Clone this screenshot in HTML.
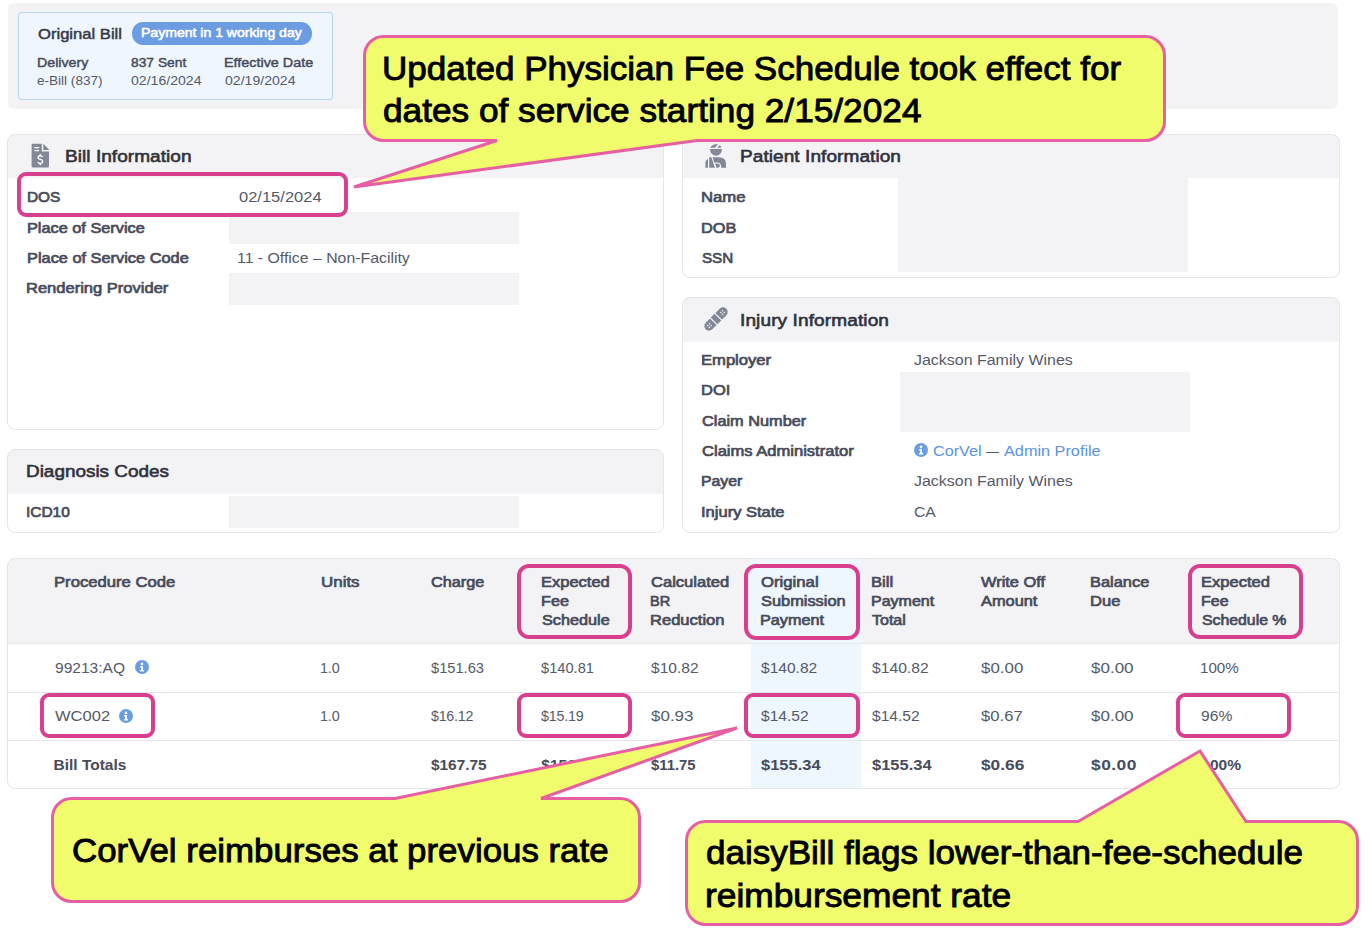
<!DOCTYPE html>
<html><head><meta charset="utf-8"><title>daisyBill</title>
<style>
html,body{margin:0;padding:0;background:#fff;}
body{width:1368px;height:942px;position:relative;overflow:hidden;font-family:"Liberation Sans", sans-serif;}
.a{position:absolute;}
.t{white-space:nowrap;}
</style></head><body>
<div class="a" style="left:8px;top:3px;width:1330px;height:106px;background:#f3f3f5;border-radius:6px;"></div>
<div class="a" style="left:17.5px;top:12px;width:315px;height:87.5px;background:#eff6fe;border:1px solid #b9d4f6;box-sizing:border-box;border-radius:3px;"></div>
<div class="a t" style="left:37.67px;top:24.00px;font-size:15.5px;line-height:19.38px;font-weight:400;color:#363945;-webkit-text-stroke:0.5px #363945;transform:scaleX(1.0709);transform-origin:0 0;">Original Bill</div>
<div class="a" style="left:132px;top:22px;width:180px;height:22.5px;background:#6c9ce2;border-radius:11.25px;"></div>
<div class="a t" style="left:141.02px;top:25.00px;font-size:13px;line-height:16.25px;font-weight:400;color:#ffffff;-webkit-text-stroke:0.55px #ffffff;transform:scaleX(1.0799);transform-origin:0 0;">Payment in 1 working day</div>
<div class="a t" style="left:36.58px;top:55.00px;font-size:13.5px;line-height:16.88px;font-weight:400;color:#474b5b;-webkit-text-stroke:0.45px #474b5b;transform:scaleX(1.0524);transform-origin:0 0;">Delivery</div>
<div class="a t" style="left:37.40px;top:73.00px;font-size:13.5px;line-height:16.88px;font-weight:400;color:#555a69;transform:scaleX(1.0035);transform-origin:0 0;">e-Bill (837)</div>
<div class="a t" style="left:131.23px;top:55.00px;font-size:13.5px;line-height:16.88px;font-weight:400;color:#474b5b;letter-spacing:0.000px;-webkit-text-stroke:0.45px #474b5b;transform:scaleX(1.0229);transform-origin:0 0;">837 Sent</div>
<div class="a t" style="left:131.00px;top:73.00px;font-size:13.5px;line-height:16.88px;font-weight:400;color:#555a69;transform:scaleX(1.0432);transform-origin:0 0;">02/16/2024</div>
<div class="a t" style="left:223.78px;top:55.00px;font-size:13.5px;line-height:16.88px;font-weight:400;color:#474b5b;-webkit-text-stroke:0.45px #474b5b;transform:scaleX(1.0636);transform-origin:0 0;">Effective Date</div>
<div class="a t" style="left:224.60px;top:73.00px;font-size:13.5px;line-height:16.88px;font-weight:400;color:#555a69;transform:scaleX(1.0432);transform-origin:0 0;">02/19/2024</div>
<div class="a" style="left:7px;top:134px;width:657px;height:296px;border:1px solid #e5e5ea;box-sizing:border-box;border-radius:8px;background:linear-gradient(to bottom,#f3f3f5 43px,#fff 43px);"></div>
<div class="a" style="left:682px;top:134px;width:658px;height:144px;border:1px solid #e5e5ea;box-sizing:border-box;border-radius:8px;background:linear-gradient(to bottom,#f3f3f5 43px,#fff 43px);"></div>
<div class="a" style="left:682px;top:297px;width:658px;height:236px;border:1px solid #e5e5ea;box-sizing:border-box;border-radius:8px;background:linear-gradient(to bottom,#f3f3f5 44px,#fff 44px);"></div>
<div class="a" style="left:7px;top:449px;width:657px;height:84px;border:1px solid #e5e5ea;box-sizing:border-box;border-radius:8px;background:linear-gradient(to bottom,#f3f3f5 44px,#fff 44px);"></div>
<div class="a" style="left:229px;top:211.5px;width:290px;height:32px;background:#f3f3f5;"></div>
<div class="a" style="left:229px;top:272.5px;width:290px;height:32px;background:#f3f3f5;"></div>
<div class="a" style="left:898px;top:177px;width:290px;height:95px;background:#f3f3f5;"></div>
<div class="a" style="left:900px;top:372px;width:290px;height:60px;background:#f3f3f5;"></div>
<div class="a" style="left:229px;top:496px;width:290px;height:32px;background:#f3f3f5;"></div>
<svg class="a" style="left:31px;top:143px" width="19" height="26" viewBox="0 0 19 26">
<path d="M0.6 1.9 Q0.6 0.7 1.8 0.7 H10.8 V8.4 H18 V23.3 Q18 24.5 16.8 24.5 H1.8 Q0.6 24.5 0.6 23.3 Z" fill="#838897"/>
<path d="M12.3 0.7 L18 6.4 V6.9 H12.3 Z" fill="#838897"/>
<rect x="3.3" y="4" width="4.8" height="1.25" fill="#fff"/><rect x="3.3" y="6.95" width="4.8" height="1.25" fill="#fff"/>
<path d="M11.5 13.9 Q11 12.7 9.3 12.7 Q7.1 12.7 7.1 14.5 Q7.1 16 9.3 16.4 Q11.6 16.8 11.6 18.6 Q11.6 20.4 9.3 20.4 Q7.5 20.4 6.9 19.1 M9.3 11 V12.7 M9.3 20.4 V22.2" fill="none" stroke="#fff" stroke-width="1.35"/>
</svg>
<svg class="a" style="left:704px;top:143px" width="24" height="26" viewBox="0 0 24 26">
<path d="M6 6.1 H18 A6 6.7 0 0 1 6 6.1 Z" fill="#838897"/>
<path d="M6.2 4.8 Q7.8 1.3 14 1.1 L11 4.8 Z" fill="#838897"/><path d="M13.2 4.8 L15.7 2.2 Q17.1 3 17.3 4.8 Z" fill="#838897"/>
<path d="M1.4 24.7 V19.6 Q1.4 16.9 4 15.9 V24.7 Z" fill="#838897"/>
<path d="M5.2 24.7 V14.3 H7.4 L10.9 24.7 Z" fill="#838897"/>
<path d="M8.6 14.3 H15 Q22 14.3 22 21 V24.7 H17.2 Q17.4 20.1 13.8 19.5 H10.1 Z" fill="#838897"/>
<path d="M11.2 20.6 H14 Q15.9 21 15.9 22.6 Q15.9 24.7 13.8 24.7 H12.4 Z" fill="#838897"/>
</svg>
<svg class="a" style="left:701.8px;top:304.6px" width="28" height="28" viewBox="-14 -14 28 28">
<g transform="rotate(-45)">
<path d="M-3.9 -4.7 H-9.9 A4.7 4.7 0 0 0 -9.9 4.7 H-3.9 Z" fill="#838897"/>
<rect x="-2.7" y="-4.7" width="5.4" height="9.4" fill="#838897"/>
<path d="M3.9 -4.7 H9.9 A4.7 4.7 0 0 1 9.9 4.7 H3.9 Z" fill="#838897"/>
<circle cx="-7.999999999999999" cy="1.2" r="0.75" fill="#f3f3f5"/><circle cx="-10.399999999999999" cy="-1.2" r="0.75" fill="#f3f3f5"/><circle cx="-10.399999999999999" cy="1.2" r="0.75" fill="#f3f3f5"/><circle cx="-7.999999999999999" cy="-1.2" r="0.75" fill="#f3f3f5"/><circle cx="10.399999999999999" cy="1.2" r="0.75" fill="#f3f3f5"/><circle cx="7.999999999999999" cy="-1.2" r="0.75" fill="#f3f3f5"/><circle cx="7.999999999999999" cy="1.2" r="0.75" fill="#f3f3f5"/><circle cx="10.399999999999999" cy="-1.2" r="0.75" fill="#f3f3f5"/>
</g></svg>
<div class="a t" style="left:64.62px;top:146.00px;font-size:17px;line-height:21.25px;font-weight:400;color:#2f323c;letter-spacing:0.038px;-webkit-text-stroke:0.6px #2f323c;transform:scaleX(1.1200);transform-origin:0 0;">Bill Information</div>
<div class="a t" style="left:739.72px;top:146.00px;font-size:17px;line-height:21.25px;font-weight:400;color:#2f323c;letter-spacing:0.057px;-webkit-text-stroke:0.6px #2f323c;transform:scaleX(1.1200);transform-origin:0 0;">Patient Information</div>
<div class="a t" style="left:739.72px;top:310.00px;font-size:17px;line-height:21.25px;font-weight:400;color:#2f323c;letter-spacing:0.098px;-webkit-text-stroke:0.6px #2f323c;transform:scaleX(1.1200);transform-origin:0 0;">Injury Information</div>
<div class="a t" style="left:26.22px;top:461.00px;font-size:17px;line-height:21.25px;font-weight:400;color:#2f323c;-webkit-text-stroke:0.6px #2f323c;transform:scaleX(1.1127);transform-origin:0 0;">Diagnosis Codes</div>
<div class="a t" style="left:26.54px;top:188.00px;font-size:15.1px;line-height:18.88px;font-weight:400;color:#474b5b;-webkit-text-stroke:0.7px #474b5b;transform:scaleX(1.0204);transform-origin:0 0;">DOS</div>
<div class="a t" style="left:26.50px;top:219.00px;font-size:15.1px;line-height:18.88px;font-weight:400;color:#474b5b;letter-spacing:0.000px;-webkit-text-stroke:0.7px #474b5b;transform:scaleX(1.0797);transform-origin:0 0;">Place of Service</div>
<div class="a t" style="left:26.50px;top:249.00px;font-size:15.1px;line-height:18.88px;font-weight:400;color:#474b5b;-webkit-text-stroke:0.7px #474b5b;transform:scaleX(1.0831);transform-origin:0 0;">Place of Service Code</div>
<div class="a t" style="left:26.49px;top:279.00px;font-size:15.1px;line-height:18.88px;font-weight:400;color:#474b5b;-webkit-text-stroke:0.7px #474b5b;transform:scaleX(1.0947);transform-origin:0 0;">Rendering Provider</div>
<div class="a t" style="left:239.00px;top:187.00px;font-size:15.5px;line-height:19.38px;font-weight:400;color:#555a69;transform:scaleX(1.0647);transform-origin:0 0;">02/15/2024</div>
<div class="a t" style="left:237.48px;top:248.00px;font-size:15.5px;line-height:19.38px;font-weight:400;color:#555a69;transform:scaleX(1.0215);transform-origin:0 0;">11 - Office – Non-Facility</div>
<div class="a t" style="left:701.28px;top:188.00px;font-size:15.1px;line-height:18.88px;font-weight:400;color:#474b5b;-webkit-text-stroke:0.7px #474b5b;transform:scaleX(1.1070);transform-origin:0 0;">Name</div>
<div class="a t" style="left:701.30px;top:219.00px;font-size:15.1px;line-height:18.88px;font-weight:400;color:#474b5b;-webkit-text-stroke:0.7px #474b5b;transform:scaleX(1.0822);transform-origin:0 0;">DOB</div>
<div class="a t" style="left:702.35px;top:249.00px;font-size:15.1px;line-height:18.88px;font-weight:400;color:#474b5b;letter-spacing:-0.000px;-webkit-text-stroke:0.7px #474b5b;transform:scaleX(1.0054);transform-origin:0 0;">SSN</div>
<div class="a t" style="left:701.29px;top:351.00px;font-size:15.1px;line-height:18.88px;font-weight:400;color:#474b5b;-webkit-text-stroke:0.7px #474b5b;transform:scaleX(1.0990);transform-origin:0 0;">Employer</div>
<div class="a t" style="left:701.29px;top:381.00px;font-size:15.1px;line-height:18.88px;font-weight:400;color:#474b5b;letter-spacing:-0.000px;-webkit-text-stroke:0.7px #474b5b;transform:scaleX(1.0931);transform-origin:0 0;">DOI</div>
<div class="a t" style="left:702.38px;top:412.00px;font-size:15.1px;line-height:18.88px;font-weight:400;color:#474b5b;letter-spacing:-0.000px;-webkit-text-stroke:0.7px #474b5b;transform:scaleX(1.0811);transform-origin:0 0;">Claim Number</div>
<div class="a t" style="left:702.38px;top:442.00px;font-size:15.1px;line-height:18.88px;font-weight:400;color:#474b5b;-webkit-text-stroke:0.7px #474b5b;transform:scaleX(1.0965);transform-origin:0 0;">Claims Administrator</div>
<div class="a t" style="left:701.32px;top:472.00px;font-size:15.1px;line-height:18.88px;font-weight:400;color:#474b5b;-webkit-text-stroke:0.7px #474b5b;transform:scaleX(1.0485);transform-origin:0 0;">Payer</div>
<div class="a t" style="left:701.29px;top:503.00px;font-size:15.1px;line-height:18.88px;font-weight:400;color:#474b5b;-webkit-text-stroke:0.7px #474b5b;transform:scaleX(1.0945);transform-origin:0 0;">Injury State</div>
<div class="a t" style="left:914.00px;top:350.00px;font-size:15.5px;line-height:19.38px;font-weight:400;color:#555a69;letter-spacing:-0.000px;transform:scaleX(1.0296);transform-origin:0 0;">Jackson Family Wines</div>
<div class="a t" style="left:914.00px;top:471.00px;font-size:15.5px;line-height:19.38px;font-weight:400;color:#555a69;letter-spacing:-0.000px;transform:scaleX(1.0296);transform-origin:0 0;">Jackson Family Wines</div>
<div class="a t" style="left:914.00px;top:502.00px;font-size:15.5px;line-height:19.38px;font-weight:400;color:#555a69;letter-spacing:-0.000px;transform:scaleX(1.0138);transform-origin:0 0;">CA</div>
<div class="a t" style="left:26.34px;top:503.00px;font-size:15.1px;line-height:18.88px;font-weight:400;color:#474b5b;-webkit-text-stroke:0.7px #474b5b;transform:scaleX(1.0217);transform-origin:0 0;">ICD10</div>
<svg class="a" style="left:914px;top:443px" width="14" height="14" viewBox="0 0 14 14"><circle cx="7" cy="7" r="7" fill="#6a9de3"/><circle cx="7" cy="3.9" r="1.3" fill="#fff"/><path d="M5.2 6h2.8v4h1v1.5H5.1V10h1.1V7.4h-1z" fill="#fff"/></svg>
<div class="a t" style="left:932.60px;top:441.00px;font-size:15.5px;line-height:19.38px;font-weight:400;color:#5a93df;transform:scaleX(1.0417);transform-origin:0 0;">CorVel</div>
<div class="a t" style="left:986.00px;top:444.00px;font-size:13px;line-height:16.25px;font-weight:400;color:#555a69;">—</div>
<div class="a t" style="left:1004.00px;top:441.00px;font-size:15.5px;line-height:19.38px;font-weight:400;color:#5a93df;letter-spacing:-0.000px;transform:scaleX(1.0486);transform-origin:0 0;">Admin Profile</div>
<div class="a" style="left:7px;top:558px;width:1333px;height:230.5px;border:1px solid #e5e5ea;box-sizing:border-box;border-radius:8px;background:linear-gradient(to bottom,#f3f3f5 85px,#fff 85px);"></div>
<div class="a" style="left:751px;top:559px;width:110px;height:228.5px;background:#eef6fe;"></div>
<div class="a" style="left:8px;top:643px;width:1330px;height:1px;background:#e8e8ec;"></div>
<div class="a" style="left:8px;top:692px;width:1330px;height:1px;background:#e6e6ea;"></div>
<div class="a" style="left:8px;top:740px;width:1330px;height:1px;background:#e6e6ea;"></div>
<div class="a t" style="left:53.78px;top:573.00px;font-size:15.1px;line-height:18.88px;font-weight:400;color:#474b5b;letter-spacing:0.000px;-webkit-text-stroke:0.7px #474b5b;transform:scaleX(1.1033);transform-origin:0 0;">Procedure Code</div>
<div class="a t" style="left:320.67px;top:573.00px;font-size:15.1px;line-height:18.88px;font-weight:400;color:#474b5b;letter-spacing:0.007px;-webkit-text-stroke:0.7px #474b5b;transform:scaleX(1.1200);transform-origin:0 0;">Units</div>
<div class="a t" style="left:431.38px;top:573.00px;font-size:15.1px;line-height:18.88px;font-weight:400;color:#474b5b;letter-spacing:-0.000px;-webkit-text-stroke:0.7px #474b5b;transform:scaleX(1.0781);transform-origin:0 0;">Charge</div>
<div class="a t" style="left:540.59px;top:573.00px;font-size:15.1px;line-height:18.88px;font-weight:400;color:#474b5b;-webkit-text-stroke:0.7px #474b5b;transform:scaleX(1.0926);transform-origin:0 0;">Expected</div>
<div class="a t" style="left:540.60px;top:592.00px;font-size:15.1px;line-height:18.88px;font-weight:400;color:#474b5b;-webkit-text-stroke:0.7px #474b5b;transform:scaleX(1.0745);transform-origin:0 0;">Fee</div>
<div class="a t" style="left:541.68px;top:611.00px;font-size:15.1px;line-height:18.88px;font-weight:400;color:#474b5b;-webkit-text-stroke:0.7px #474b5b;transform:scaleX(1.0752);transform-origin:0 0;">Schedule</div>
<div class="a t" style="left:651.38px;top:573.00px;font-size:15.1px;line-height:18.88px;font-weight:400;color:#474b5b;-webkit-text-stroke:0.7px #474b5b;transform:scaleX(1.0960);transform-origin:0 0;">Calculated</div>
<div class="a t" style="left:650.37px;top:592.00px;font-size:15.1px;line-height:18.88px;font-weight:400;color:#474b5b;-webkit-text-stroke:0.7px #474b5b;transform:scaleX(0.9630);transform-origin:0 0;">BR</div>
<div class="a t" style="left:650.29px;top:611.00px;font-size:15.1px;line-height:18.88px;font-weight:400;color:#474b5b;-webkit-text-stroke:0.7px #474b5b;transform:scaleX(1.0956);transform-origin:0 0;">Reduction</div>
<div class="a t" style="left:761.39px;top:573.00px;font-size:15.1px;line-height:18.88px;font-weight:400;color:#474b5b;-webkit-text-stroke:0.7px #474b5b;transform:scaleX(1.1078);transform-origin:0 0;">Original</div>
<div class="a t" style="left:761.38px;top:592.00px;font-size:15.1px;line-height:18.88px;font-weight:400;color:#474b5b;-webkit-text-stroke:0.7px #474b5b;transform:scaleX(1.0852);transform-origin:0 0;">Submission</div>
<div class="a t" style="left:760.30px;top:611.00px;font-size:15.1px;line-height:18.88px;font-weight:400;color:#474b5b;-webkit-text-stroke:0.7px #474b5b;transform:scaleX(1.0737);transform-origin:0 0;">Payment</div>
<div class="a t" style="left:870.78px;top:573.00px;font-size:15.1px;line-height:18.88px;font-weight:400;color:#474b5b;-webkit-text-stroke:0.7px #474b5b;transform:scaleX(1.1040);transform-origin:0 0;">Bill</div>
<div class="a t" style="left:870.81px;top:592.00px;font-size:15.1px;line-height:18.88px;font-weight:400;color:#474b5b;-webkit-text-stroke:0.7px #474b5b;transform:scaleX(1.0604);transform-origin:0 0;">Payment</div>
<div class="a t" style="left:871.87px;top:611.00px;font-size:15.1px;line-height:18.88px;font-weight:400;color:#474b5b;-webkit-text-stroke:0.7px #474b5b;transform:scaleX(1.0612);transform-origin:0 0;">Total</div>
<div class="a t" style="left:981.38px;top:573.00px;font-size:15.1px;line-height:18.88px;font-weight:400;color:#474b5b;-webkit-text-stroke:0.7px #474b5b;transform:scaleX(1.0877);transform-origin:0 0;">Write Off</div>
<div class="a t" style="left:981.38px;top:592.00px;font-size:15.1px;line-height:18.88px;font-weight:400;color:#474b5b;letter-spacing:0.000px;-webkit-text-stroke:0.7px #474b5b;transform:scaleX(1.0836);transform-origin:0 0;">Amount</div>
<div class="a t" style="left:1090.29px;top:573.00px;font-size:15.1px;line-height:18.88px;font-weight:400;color:#474b5b;-webkit-text-stroke:0.7px #474b5b;transform:scaleX(1.0863);transform-origin:0 0;">Balance</div>
<div class="a t" style="left:1090.29px;top:592.00px;font-size:15.1px;line-height:18.88px;font-weight:400;color:#474b5b;-webkit-text-stroke:0.7px #474b5b;transform:scaleX(1.0965);transform-origin:0 0;">Due</div>
<div class="a t" style="left:1200.59px;top:573.00px;font-size:15.1px;line-height:18.88px;font-weight:400;color:#474b5b;-webkit-text-stroke:0.7px #474b5b;transform:scaleX(1.0958);transform-origin:0 0;">Expected</div>
<div class="a t" style="left:1200.61px;top:592.00px;font-size:15.1px;line-height:18.88px;font-weight:400;color:#474b5b;-webkit-text-stroke:0.7px #474b5b;transform:scaleX(1.0587);transform-origin:0 0;">Fee</div>
<div class="a t" style="left:1201.67px;top:611.00px;font-size:15.1px;line-height:18.88px;font-weight:400;color:#474b5b;-webkit-text-stroke:0.7px #474b5b;transform:scaleX(1.0478);transform-origin:0 0;">Schedule %</div>
<div class="a t" style="left:54.50px;top:658.00px;font-size:15.5px;line-height:19.38px;font-weight:400;color:#555a69;transform:scaleX(1.0036);transform-origin:0 0;">99213:AQ</div>
<div class="a t" style="left:320.48px;top:658.00px;font-size:15.5px;line-height:19.38px;font-weight:400;color:#555a69;letter-spacing:-0.137px;transform:scaleX(0.9200);transform-origin:0 0;">1.0</div>
<div class="a t" style="left:431.00px;top:658.00px;font-size:15.5px;line-height:19.38px;font-weight:400;color:#555a69;transform:scaleX(0.9457);transform-origin:0 0;">$151.63</div>
<div class="a t" style="left:541.30px;top:658.00px;font-size:15.5px;line-height:19.38px;font-weight:400;color:#555a69;transform:scaleX(0.9457);transform-origin:0 0;">$140.81</div>
<div class="a t" style="left:651.00px;top:658.00px;font-size:15.5px;line-height:19.38px;font-weight:400;color:#555a69;letter-spacing:-0.000px;transform:scaleX(1.0045);transform-origin:0 0;">$10.82</div>
<div class="a t" style="left:761.00px;top:658.00px;font-size:15.5px;line-height:19.38px;font-weight:400;color:#555a69;transform:scaleX(1.0035);transform-origin:0 0;">$140.82</div>
<div class="a t" style="left:871.50px;top:658.00px;font-size:15.5px;line-height:19.38px;font-weight:400;color:#555a69;transform:scaleX(1.0107);transform-origin:0 0;">$140.82</div>
<div class="a t" style="left:981.00px;top:658.00px;font-size:15.5px;line-height:19.38px;font-weight:400;color:#555a69;transform:scaleX(1.0902);transform-origin:0 0;">$0.00</div>
<div class="a t" style="left:1091.00px;top:658.00px;font-size:15.5px;line-height:19.38px;font-weight:400;color:#555a69;transform:scaleX(1.0978);transform-origin:0 0;">$0.00</div>
<div class="a t" style="left:1200.32px;top:658.00px;font-size:15.5px;line-height:19.38px;font-weight:400;color:#555a69;transform:scaleX(0.9778);transform-origin:0 0;">100%</div>
<div class="a t" style="left:54.50px;top:706.00px;font-size:15.5px;line-height:19.38px;font-weight:400;color:#555a69;transform:scaleX(1.0653);transform-origin:0 0;">WC002</div>
<div class="a t" style="left:320.48px;top:706.00px;font-size:15.5px;line-height:19.38px;font-weight:400;color:#555a69;letter-spacing:-0.137px;transform:scaleX(0.9200);transform-origin:0 0;">1.0</div>
<div class="a t" style="left:431.00px;top:706.00px;font-size:15.5px;line-height:19.38px;font-weight:400;color:#555a69;letter-spacing:-0.271px;transform:scaleX(0.9200);transform-origin:0 0;">$16.12</div>
<div class="a t" style="left:541.30px;top:706.00px;font-size:15.5px;line-height:19.38px;font-weight:400;color:#555a69;letter-spacing:-0.227px;transform:scaleX(0.9200);transform-origin:0 0;">$15.19</div>
<div class="a t" style="left:651.00px;top:706.00px;font-size:15.5px;line-height:19.38px;font-weight:400;color:#555a69;transform:scaleX(1.0952);transform-origin:0 0;">$0.93</div>
<div class="a t" style="left:761.00px;top:706.00px;font-size:15.5px;line-height:19.38px;font-weight:400;color:#555a69;letter-spacing:-0.000px;transform:scaleX(1.0045);transform-origin:0 0;">$14.52</div>
<div class="a t" style="left:871.50px;top:706.00px;font-size:15.5px;line-height:19.38px;font-weight:400;color:#555a69;letter-spacing:-0.000px;transform:scaleX(1.0045);transform-origin:0 0;">$14.52</div>
<div class="a t" style="left:981.00px;top:706.00px;font-size:15.5px;line-height:19.38px;font-weight:400;color:#555a69;transform:scaleX(1.0742);transform-origin:0 0;">$0.67</div>
<div class="a t" style="left:1091.00px;top:706.00px;font-size:15.5px;line-height:19.38px;font-weight:400;color:#555a69;transform:scaleX(1.0978);transform-origin:0 0;">$0.00</div>
<div class="a t" style="left:1201.30px;top:706.00px;font-size:15.5px;line-height:19.38px;font-weight:400;color:#555a69;letter-spacing:0.000px;transform:scaleX(1.0083);transform-origin:0 0;">96%</div>
<div class="a t" style="left:53.50px;top:755.00px;font-size:15.5px;line-height:19.38px;font-weight:700;color:#474b5b;">Bill Totals</div>
<div class="a t" style="left:431.00px;top:755.00px;font-size:15.5px;line-height:19.38px;font-weight:700;color:#474b5b;transform:scaleX(0.9928);transform-origin:0 0;">$167.75</div>
<div class="a t" style="left:541.30px;top:755.00px;font-size:15.5px;line-height:19.38px;font-weight:700;color:#474b5b;">$156.00</div>
<div class="a t" style="left:651.00px;top:755.00px;font-size:15.5px;line-height:19.38px;font-weight:700;color:#474b5b;transform:scaleX(0.9588);transform-origin:0 0;">$11.75</div>
<div class="a t" style="left:761.00px;top:755.00px;font-size:15.5px;line-height:19.38px;font-weight:700;color:#474b5b;transform:scaleX(1.0637);transform-origin:0 0;">$155.34</div>
<div class="a t" style="left:871.50px;top:755.00px;font-size:15.5px;line-height:19.38px;font-weight:700;color:#474b5b;transform:scaleX(1.0637);transform-origin:0 0;">$155.34</div>
<div class="a t" style="left:981.00px;top:755.00px;font-size:15.5px;line-height:19.38px;font-weight:700;color:#474b5b;transform:scaleX(1.1157);transform-origin:0 0;">$0.66</div>
<div class="a t" style="left:1091.00px;top:755.00px;font-size:15.5px;line-height:19.38px;font-weight:700;color:#474b5b;letter-spacing:0.436px;transform:scaleX(1.1200);transform-origin:0 0;">$0.00</div>
<div class="a t" style="left:1201.30px;top:755.00px;font-size:15.5px;line-height:19.38px;font-weight:700;color:#474b5b;">100%</div>
<svg class="a" style="left:134.7px;top:660.3px" width="14" height="14" viewBox="0 0 14 14"><circle cx="7" cy="7" r="7" fill="#6a9de3"/><circle cx="7" cy="3.9" r="1.3" fill="#fff"/><path d="M5.2 6h2.8v4h1v1.5H5.1V10h1.1V7.4h-1z" fill="#fff"/></svg>
<svg class="a" style="left:119px;top:708.5px" width="14" height="14" viewBox="0 0 14 14"><circle cx="7" cy="7" r="7" fill="#6a9de3"/><circle cx="7" cy="3.9" r="1.3" fill="#fff"/><path d="M5.2 6h2.8v4h1v1.5H5.1V10h1.1V7.4h-1z" fill="#fff"/></svg>
<div class="a" style="left:17px;top:172px;width:330.5px;height:45px;border:4px solid #d93f8f;box-sizing:border-box;border-radius:9px;"></div>
<div class="a" style="left:517px;top:563.5px;width:115px;height:75.5px;border:4px solid #d93f8f;box-sizing:border-box;border-radius:12px;"></div>
<div class="a" style="left:517px;top:693px;width:115px;height:44.60000000000002px;border:4px solid #d93f8f;box-sizing:border-box;border-radius:9px;"></div>
<div class="a" style="left:744px;top:563.5px;width:115.5px;height:76.0px;border:4px solid #d93f8f;box-sizing:border-box;border-radius:12px;"></div>
<div class="a" style="left:744px;top:693px;width:115.5px;height:44.60000000000002px;border:4px solid #d93f8f;box-sizing:border-box;border-radius:9px;"></div>
<div class="a" style="left:1188px;top:563.5px;width:115px;height:75.5px;border:4px solid #d93f8f;box-sizing:border-box;border-radius:12px;"></div>
<div class="a" style="left:1176px;top:693px;width:115px;height:44.60000000000002px;border:4px solid #d93f8f;box-sizing:border-box;border-radius:9px;"></div>
<div class="a" style="left:40px;top:693px;width:115px;height:44.60000000000002px;border:4px solid #d93f8f;box-sizing:border-box;border-radius:9px;"></div>
<svg class="a" style="left:0;top:0" width="1368" height="942"><path d="M383.5,36.5 H1145.5 A19,19 0 0 1 1164.5,55.5 V121.5 A19,19 0 0 1 1145.5,140.5 H697 L354,187 L497,140.5 H383.5 A19,19 0 0 1 364.5,121.5 V55.5 A19,19 0 0 1 383.5,36.5 Z" fill="#f0fc6b" stroke="#e65fa2" stroke-width="3" stroke-linejoin="miter"/></svg>
<div class="a t" style="left:382.36px;top:48.00px;font-size:33px;line-height:41.25px;font-weight:400;color:#000;-webkit-text-stroke:0.9px #000;transform:scaleX(1.0613);transform-origin:0 0;">Updated Physician Fee Schedule took effect for</div>
<div class="a t" style="left:383.41px;top:90.00px;font-size:33px;line-height:41.25px;font-weight:400;color:#000;-webkit-text-stroke:0.9px #000;transform:scaleX(1.0674);transform-origin:0 0;">dates of service starting 2/15/2024</div>
<svg class="a" style="left:0;top:0" width="1368" height="942"><path d="M71.5,798.5 H395 L737,728 L541,798.5 H620.5 A19,19 0 0 1 639.5,817.5 V882.5 A19,19 0 0 1 620.5,901.5 H71.5 A19,19 0 0 1 52.5,882.5 V817.5 A19,19 0 0 1 71.5,798.5 Z" fill="#f0fc6b" stroke="#e65fa2" stroke-width="3" stroke-linejoin="miter"/></svg>
<div class="a t" style="left:71.82px;top:830.00px;font-size:33px;line-height:41.25px;font-weight:400;color:#000;-webkit-text-stroke:0.9px #000;transform:scaleX(1.0561);transform-origin:0 0;">CorVel reimburses at previous rate</div>
<svg class="a" style="left:0;top:0" width="1368" height="942"><path d="M705.5,821.5 H1078 L1200,751 L1246,821.5 H1338.5 A19,19 0 0 1 1357.5,840.5 V905.5 A19,19 0 0 1 1338.5,924.5 H705.5 A19,19 0 0 1 686.5,905.5 V840.5 A19,19 0 0 1 705.5,821.5 Z" fill="#f0fc6b" stroke="#e65fa2" stroke-width="3" stroke-linejoin="miter"/></svg>
<div class="a t" style="left:705.92px;top:832.00px;font-size:33px;line-height:41.25px;font-weight:400;color:#000;-webkit-text-stroke:0.9px #000;transform:scaleX(1.0603);transform-origin:0 0;">daisyBill flags lower-than-fee-schedule</div>
<div class="a t" style="left:704.84px;top:875.00px;font-size:33px;line-height:41.25px;font-weight:400;color:#000;-webkit-text-stroke:0.9px #000;transform:scaleX(1.0700);transform-origin:0 0;">reimbursement rate</div>
</body></html>
